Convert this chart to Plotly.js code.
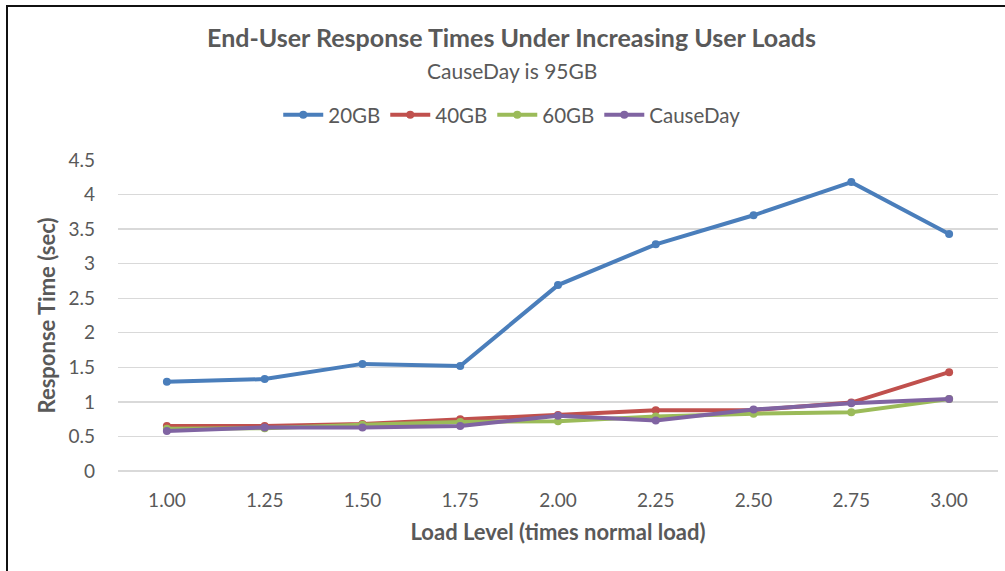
<!DOCTYPE html>
<html><head><meta charset="utf-8">
<script src="https://cdn.plot.ly/plotly-3.0.1.min.js"></script>
<style>
html,body{margin:0;padding:0;background:#fff;}
#wrap{position:relative;width:1005px;height:571px;}
#chart{width:1005px;height:571px;}
#frame{position:absolute;left:6px;top:5px;right:0;bottom:0;border-top:2px solid #111;border-left:2px solid #111;pointer-events:none;}
</style></head>
<body><div id="wrap"><div id="chart"></div><div id="frame"></div></div>
<script>
const loadLevels = ["1.00","1.25","1.50","1.75","2.00","2.25","2.50","2.75","3.00"];
const gb20 = [1.29,1.33,1.55,1.52,2.69,3.28,3.70,4.18,3.43];
const gb40 = [0.65,0.65,0.68,0.75,0.81,0.88,0.88,0.99,1.43];
const gb60 = [0.61,0.62,0.67,0.71,0.72,0.79,0.83,0.85,1.04];
const causeDay = [0.58,0.63,0.63,0.65,0.80,0.73,0.89,0.98,1.04];
const seriesNames = ["20GB","40GB","60GB","CauseDay"];
const colors = ["#4A7EBB","#C0504D","#9BBB59","#8064A2"];
const values = [gb20, gb40, gb60, causeDay];

const FONT = "Lato, 'Open Sans', sans-serif";
const GREY = '#595959';
const traces = values.map((v,i)=>({
  x: loadLevels, y: v, name: seriesNames[i], type:'scatter', mode:'lines+markers',
  line:{color:colors[i], width:4}, marker:{color:colors[i], size:8}
}));

const layout = {
  width:1005, height:571,
  paper_bgcolor:'#fff', plot_bgcolor:'#fff',
  margin:{l:118, r:7, t:160, b:100},
  font:{family:FONT, color:GREY, size:19},
  title:{text:'<b>End-User Response Times Under Increasing User Loads</b>', x:0.509, xanchor:'center', y:1-38/571, yanchor:'middle', font:{family:FONT, size:25, color:GREY}},
  annotations:[{text:'CauseDay is 95GB', xref:'paper', yref:'paper', x:0.448, y:(471-70)/311, xanchor:'center', yanchor:'middle', showarrow:false, font:{family:FONT,size:21,color:GREY}}],
  legend:{orientation:'h', x:0.448, xanchor:'center', y:(471-115)/311, yanchor:'middle', font:{family:FONT,size:20.5,color:GREY}, itemwidth:40, tracegroupgap:0},
  xaxis:{type:'category', range:[-0.5,8.5], showgrid:false, zeroline:false, showline:false, ticks:'', ticklabelstandoff:16, tickfont:{family:FONT,size:19,color:GREY},
    title:{text:'<b>Load Level (times normal load)</b>', font:{family:FONT,size:22,color:GREY}, standoff:14}},
  yaxis:{range:[0,4.5], dtick:0.5, showgrid:true, gridcolor:'#D9D9D9', gridwidth:1.3, zeroline:true, zerolinecolor:'#D9D9D9', zerolinewidth:1.3, showline:false, ticks:'', ticklabelstandoff:22, tickfont:{family:FONT,size:19,color:GREY},
    title:{text:'<b>Response Time (sec)</b>', font:{family:FONT,size:22,color:GREY}, standoff:6}},
  showlegend:true
};
Plotly.newPlot('chart', traces, layout, {displayModeBar:false, staticPlot:true});
</script></body></html>
